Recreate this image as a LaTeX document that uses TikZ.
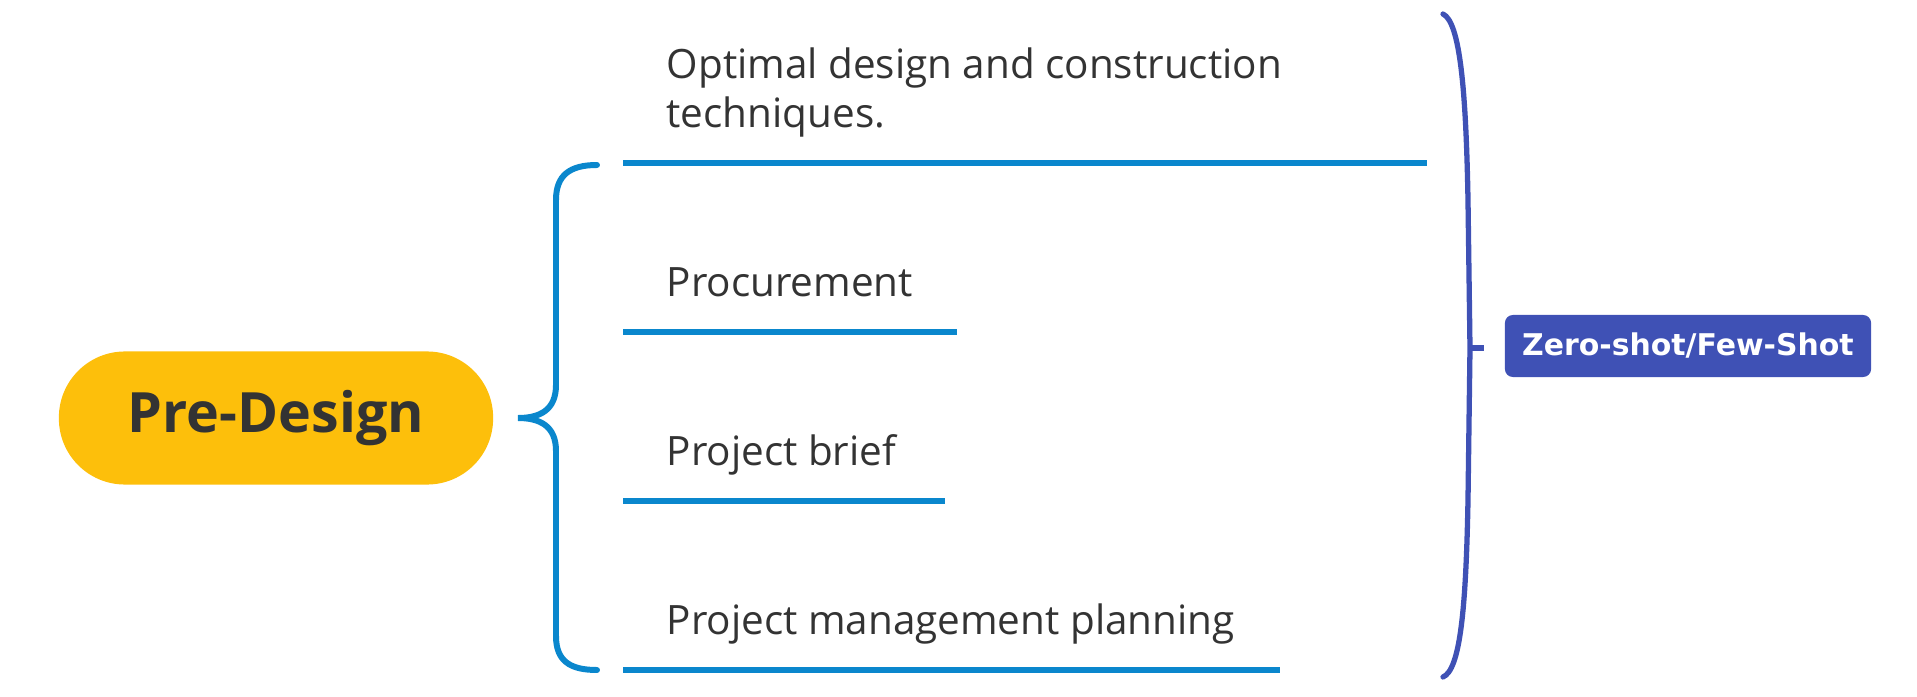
\documentclass[tikz,border=0pt]{standalone}
\usepackage{fontspec}
\setmainfont{Open Sans}
\newfontfamily\tagfont{DejaVu Sans}
\usetikzlibrary{positioning, calc}
\definecolor{rootcolor}{HTML}{FDBF0B}
\definecolor{branchcolor}{HTML}{0A87CD}
\definecolor{shotcolor}{HTML}{3F51B5}
\definecolor{textcolor}{HTML}{333333}

\begin{document}
\begin{tikzpicture}[
    x=0.01cm, y=-0.01cm,
    root/.style={rectangle, rounded corners=0.66cm, fill=rootcolor, minimum width=4.34cm, minimum height=1.33cm, font=\fontsize{15.8}{18}\selectfont\bfseries, text=textcolor},
    leaf/.style={anchor=south west, inner sep=0pt, text depth=3.5pt, align=left, font=\fontsize{11.5}{14}\selectfont, text=textcolor},
    underline/.style={draw=branchcolor, line width=1.7pt},
    brace/.style={draw=branchcolor, line width=1.7pt, line cap=round},
    shotbrace/.style={draw=shotcolor, line width=1.5pt, line cap=round},
    tag/.style={rectangle, rounded corners=0.08cm, fill=shotcolor, minimum width=3.66cm, minimum height=0.62cm, font=\tagfont\fontsize{8.5}{10}\selectfont\bfseries, text=white}
]
\useasboundingbox (0,0) rectangle (1917,697);

% Root
\node[root] (predesign) at (276,418) {Pre-Design};

% Branches
\coordinate (optS) at (623,163);   \coordinate (optE) at (1427,163);
\coordinate (procS) at (623,332);  \coordinate (procE) at (957,332);
\coordinate (briefS) at (623,501); \coordinate (briefE) at (945,501);
\coordinate (pmpS) at (623,670);   \coordinate (pmpE) at (1280,670);

\node[leaf] (opt) at (666,141) {Optimal design and construction\\techniques.};
\node[leaf] (proc) at (666,310) {Procurement};
\node[leaf] (brief) at (666,479) {Project brief};
\node[leaf] (pmp) at (666,648) {Project management planning};

\draw[underline] (optS) -- (optE);
\draw[underline] (procS) -- (procE);
\draw[underline] (briefS) -- (briefE);
\draw[underline] (pmpS) -- (pmpE);

% Left brace
\coordinate (tip) at ($(predesign.east)+(24,0)$);
\draw[brace] ($(optS)+(-26,2)$) .. controls (570,165) and (556,175) .. (556,200)
    -- (556,385) .. controls (556,410) and (540,418) .. (tip)
    .. controls (540,418) and (556,426) .. (556,451)
    -- (556,636) .. controls (556,661) and (570,670) .. ($(pmpS)+(-26,0)$);

% Right brace and tag
\node[tag] (shot) at (1688,346) {Zero-shot/Few-Shot};
\coordinate (mid) at (1470,348);
\draw[shotbrace] (1443,14) .. controls (1460,22) and (1466,90) .. (1468,200)
    -- (mid) -- (1468,500) .. controls (1466,610) and (1460,670) .. (1443,677);
\draw[shotbrace, line cap=butt] (mid) -- ($(shot.west)+(-20,2)$);

\end{tikzpicture}
\end{document}
